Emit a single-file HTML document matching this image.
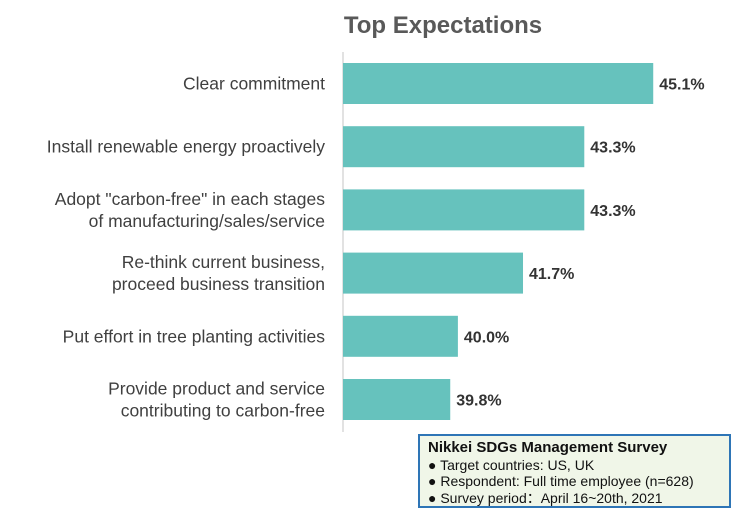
<!DOCTYPE html>
<html><head><meta charset="utf-8"><style>
body{margin:0;background:#fff;width:750px;height:517px;overflow:hidden;font-family:"Liberation Sans",sans-serif}
#legend{position:absolute;left:418px;top:434px;width:313px;height:74px;border:2px solid #2e75b6;background:#f0f6e8;font-size:14px;color:#111;line-height:16.5px;padding:3px 0 0 8px;box-sizing:border-box}
#legend b{font-size:15px}
</style></head><body>
<svg width="750" height="517" style="position:absolute;left:0;top:0">
<text x="443" y="33" text-anchor="middle" font-size="24" font-weight="bold" fill="#595959">Top Expectations</text>
<line x1="343" y1="52" x2="343" y2="432" stroke="#d9d9d9" stroke-width="1.5"/>
<g id="bars"></g>
</svg>
<div id="legend">
<b>Nikkei SDGs Management Survey</b><br>● Target countries: US, UK<br>● Respondent: Full time employee (n=628)<br>● Survey period：April 16~20th, 2021
</div>
<script>
const categories=[["Clear commitment"],["Install renewable energy proactively"],["Adopt \"carbon-free\" in each stages","of manufacturing/sales/service"],["Re-think current business,","proceed business transition"],["Put effort in tree planting activities"],["Provide product and service","contributing to carbon-free"]];
const values=[45.1,43.3,43.3,41.7,40.0,39.8];
const labels=["45.1%","43.3%","43.3%","41.7%","40.0%","39.8%"];
const xMin=37, x0=343, pxPer=38.3, top0=63, step=63.2, bh=41;
const xs=v=>x0+(v-xMin)*pxPer;
const ys=i=>top0+i*step;
const g=document.getElementById('bars');const NS="http://www.w3.org/2000/svg";
values.forEach((v,i)=>{
 const r=document.createElementNS(NS,'rect');
 r.setAttribute('x',x0);r.setAttribute('y',ys(i));r.setAttribute('width',xs(v)-x0);r.setAttribute('height',bh);r.setAttribute('fill','#66c2bd');
 
 
 g.appendChild(r);
 const t=document.createElementNS(NS,'text');
 t.setAttribute('x',xs(v)+6);t.setAttribute('y',ys(i)+bh/2+6);t.setAttribute('font-size','16');t.setAttribute('font-weight','bold');t.setAttribute('fill','#333');
 t.textContent=labels[i];
 
 
 g.appendChild(t);
 const c=categories[i];
 c.forEach((line,j)=>{
  const l=document.createElementNS(NS,'text');
  const cy=ys(i)+bh/2+6+(j-(c.length-1)/2)*22;
  l.setAttribute('x',325);l.setAttribute('y',cy);l.setAttribute('text-anchor','end');l.setAttribute('font-size','17.5');l.setAttribute('fill','#404040');
  l.textContent=line;
  
  
  g.appendChild(l);
 });
});
</script>
</body></html>
